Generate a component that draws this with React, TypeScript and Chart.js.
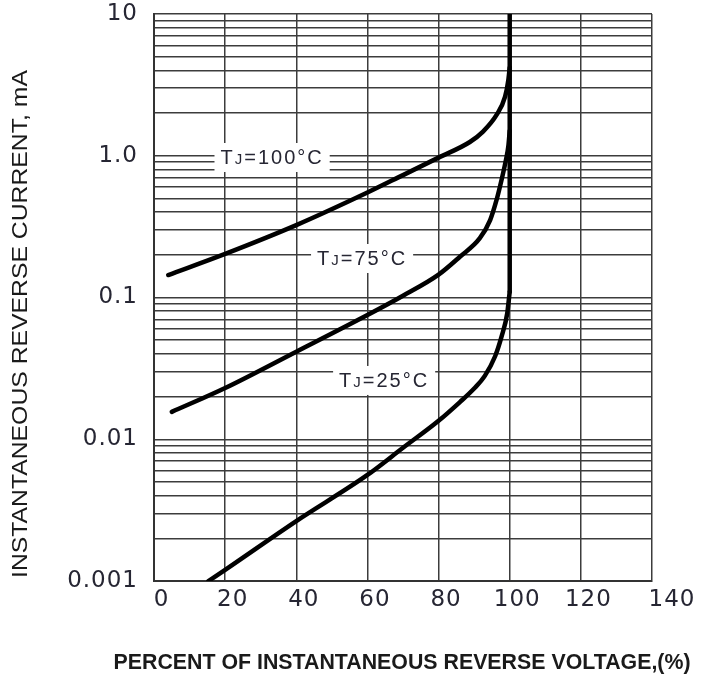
import React, { useEffect, useRef } from 'react';
import { Chart, registerables } from 'chart.js';

Chart.register(...registerables);

// ---- axis ticks ----
const X_TICKS = [0, 20, 40, 60, 80, 100, 120, 140];
const Y_MAJOR = [0.001, 0.01, 0.1, 1, 10];
const Y_MAJOR_LABELS = ['0.001', '0.01', '0.1', '1.0', '10'];
const Y_MINOR_MULT = [2, 3, 4, 5, 6, 7, 8, 9];

// ---- series (percent of VRRM, mA) ----
const T100_X = [4, 20, 40, 60, 70, 80, 88.8, 92.5, 96.3, 98.7, 99.6, 100];
const T100_Y = [0.144, 0.203, 0.324, 0.55, 0.73, 0.97, 1.25, 1.48, 1.94, 2.61, 3.4, 4.2];

const T75_X = [5, 20, 40, 60, 70, 80, 86, 91.6, 94.5, 96.3, 97.7, 99, 99.6, 100];
const T75_Y = [0.0156, 0.023, 0.0415, 0.0753, 0.103, 0.145, 0.194, 0.262, 0.352, 0.488, 0.675, 0.95, 1.16, 1.5];

const T25_X = [15.3, 20, 40, 60, 70, 80, 86, 90, 93, 95.9, 97.7, 99.3, 100];
const T25_Y = [0.001, 0.0012, 0.00265, 0.0056, 0.0087, 0.0135, 0.0183, 0.0228, 0.028, 0.0385, 0.0529, 0.0773, 0.11];

const BREAK_X = [100, 100];
const BREAK_Y = [0.11, 10];

// ---- curve labels ----
const LABEL_TEMPS = ['100', '75', '25'];
const LABEL_X = [33.2, 58.5, 64.7];
const LABEL_Y = [0.98, 0.19, 0.0262];

const X_TITLE = 'PERCENT OF INSTANTANEOUS REVERSE VOLTAGE,(%)';
const Y_TITLE = 'INSTANTANEOUS REVERSE CURRENT, mA';

const toPts = (xs: number[], ys: number[]) => xs.map((x, i) => ({ x, y: ys[i] }));

const TEXT_COLOR = '#262633';

const labelPlugin = {
  id: 'tjLabels',
  beforeDraw(chart: any) {
    (chart.ctx as any).letterSpacing = '1px';
  },
  beforeDatasetsDraw(chart: any) {
    const ctx = chart.ctx as CanvasRenderingContext2D;
    (ctx as any).letterSpacing = '0px';
    const xs = chart.scales.x;
    const ys = chart.scales.y;
    LABEL_TEMPS.forEach((t, i) => {
      const cx = xs.getPixelForValue(LABEL_X[i]);
      const cy = ys.getPixelForValue(LABEL_Y[i]);
      const segs: [string, number][] = [
        ['T', 20],
        ['J', 15],
        ['=' + t + '°C', 20],
      ];
      ctx.save();
      (ctx as any).letterSpacing = '2px';
      let total = 0;
      const widths = segs.map(([s, size]) => {
        ctx.font = `${size}px "Liberation Sans", Arial, sans-serif`;
        const w = ctx.measureText(s).width;
        total += w;
        return w;
      });
      const x0 = cx - total / 2;
      ctx.fillStyle = '#ffffff';
      ctx.fillRect(x0 - 6, cy - 14, total + 12, 29);
      ctx.fillStyle = TEXT_COLOR;
      ctx.textBaseline = 'alphabetic';
      ctx.textAlign = 'left';
      let x = x0;
      segs.forEach(([s, size], k) => {
        ctx.font = `${size}px "Liberation Sans", Arial, sans-serif`;
        ctx.fillText(s, x, cy + 7);
        x += widths[k];
      });
      ctx.restore();
    });
  },
  afterDraw(chart: any) {
    const ctx = chart.ctx as CanvasRenderingContext2D;
    (ctx as any).letterSpacing = '0px';
    const area = chart.chartArea;
    ctx.save();
    ctx.fillStyle = '#1a1a1a';
    ctx.font = 'bold 22px "Liberation Sans", Arial, sans-serif';
    const wx = ctx.measureText(X_TITLE).width;
    ctx.translate((area.left + area.right) / 2 - 1, 669);
    ctx.scale(577 / wx, 1);
    ctx.textAlign = 'center';
    ctx.textBaseline = 'alphabetic';
    ctx.fillText(X_TITLE, 0, 0);
    ctx.restore();

    ctx.save();
    ctx.fillStyle = '#1a1a1a';
    ctx.font = '22px "Liberation Sans", Arial, sans-serif';
    const wy = ctx.measureText(Y_TITLE).width;
    ctx.translate(27, 324);
    ctx.rotate(-Math.PI / 2);
    ctx.scale(508 / wy, 1);
    ctx.textAlign = 'center';
    ctx.textBaseline = 'alphabetic';
    ctx.fillText(Y_TITLE, 0, 0);
    ctx.restore();
  },
};

export default function App() {
  const ref = useRef<HTMLCanvasElement | null>(null);

  useEffect(() => {
    if (!ref.current) return;
    const lineStyle = {
      borderColor: '#000000',
      borderWidth: 4.5,
      pointRadius: 0,
      fill: false,
      cubicInterpolationMode: 'monotone' as const,
      borderCapStyle: 'round' as const,
      borderJoinStyle: 'round' as const,
    };
    const yTicks: number[] = [];
    Y_MAJOR.forEach((d, i) => {
      yTicks.push(d);
      if (i < Y_MAJOR.length - 1) Y_MINOR_MULT.forEach((m) => yTicks.push(d * m));
    });

    const chart = new Chart(ref.current, {
      type: 'line',
      data: {
        datasets: [
          { ...lineStyle, data: toPts(T100_X, T100_Y) },
          { ...lineStyle, data: toPts(T75_X, T75_Y) },
          { ...lineStyle, data: toPts(T25_X, T25_Y) },
          { ...lineStyle, cubicInterpolationMode: 'default' as const, tension: 0, data: toPts(BREAK_X, BREAK_Y) },
        ],
      },
      options: {
        responsive: false,
        animation: false,
        events: [],
        layout: { padding: { top: 14, right: 50, bottom: 0, left: 0 } },
        plugins: { legend: { display: false }, tooltip: { enabled: false } },
        scales: {
          x: {
            type: 'linear',
            min: 0,
            max: 140,
            afterBuildTicks: (s: any) => {
              s.ticks = X_TICKS.map((v) => ({ value: v }));
            },
            afterFit: (s: any) => {
              s.height = 97;
              s.paddingLeft = 0;
              s.paddingRight = 0;
            },
            grid: { color: '#3c3c3c', lineWidth: 1.5, drawTicks: false },
            border: { color: '#333333', width: 2 },
            ticks: {
              font: { family: '"DejaVu Sans", sans-serif', size: 23 },
              color: TEXT_COLOR,
              padding: 5,
              labelOffset: 7.5,
              autoSkip: false,
              maxRotation: 0,
              callback: (v: any) => (v === 140 ? '   140' : String(v)),
            },
          },
          y: {
            type: 'logarithmic',
            min: 0.001,
            max: 10,
            afterBuildTicks: (s: any) => {
              s.ticks = yTicks.map((v) => ({ value: v }));
            },
            afterFit: (s: any) => {
              s.width = 154;
              s.paddingTop = 0;
              s.paddingBottom = 0;
            },
            grid: { color: '#3c3c3c', lineWidth: 1.5, drawTicks: false },
            border: { color: '#333333', width: 2 },
            ticks: {
              font: { family: '"DejaVu Sans", sans-serif', size: 23 },
              color: TEXT_COLOR,
              padding: 16,
              autoSkip: false,
              callback: (v: any) => {
                const idx = Y_MAJOR.findIndex((m) => Math.abs(Math.log10(m) - Math.log10(Number(v))) < 1e-6);
                return idx >= 0 ? Y_MAJOR_LABELS[idx] : '';
              },
            },
          },
        },
      },
      plugins: [labelPlugin],
    });
    return () => chart.destroy();
  }, []);

  return (
    <div style={{ position: 'fixed', left: 0, top: 0, width: 702, height: 678, background: '#ffffff' }}>
      <canvas ref={ref} width={702} height={678} style={{ display: 'block' }} />
    </div>
  );
}
